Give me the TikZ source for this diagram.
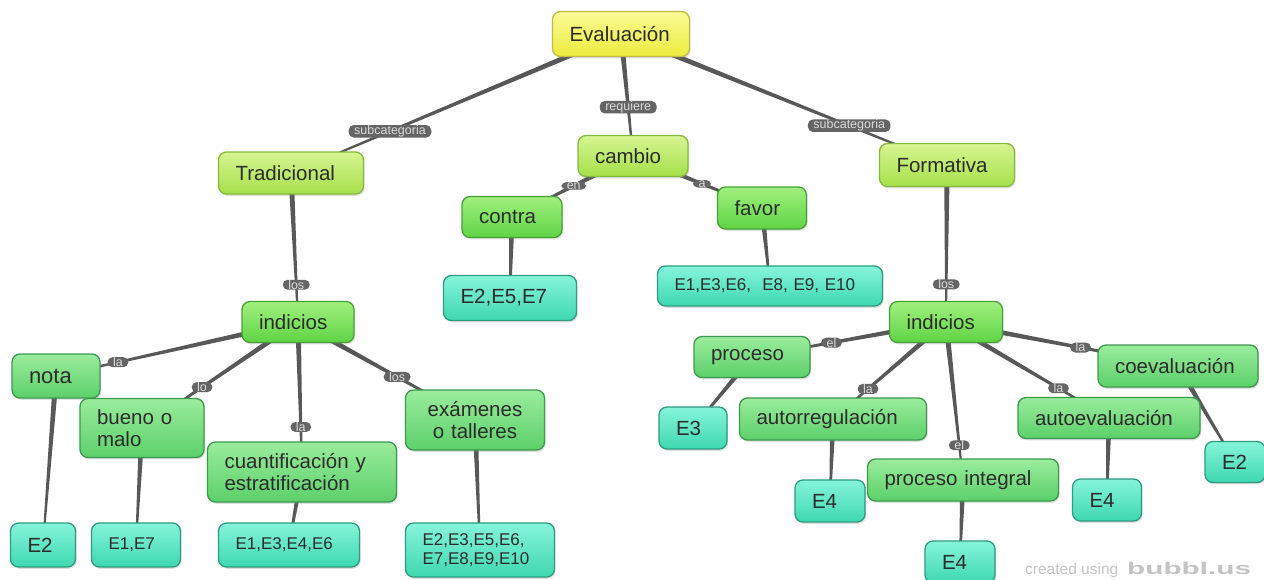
\documentclass[tikz,border=0pt]{standalone}
\usepackage{fontspec}
\setmainfont{Liberation Sans}
\usetikzlibrary{calc,shadows,backgrounds}

\definecolor{txt}{HTML}{2C2C2C}
\definecolor{yelTop}{HTML}{FAFA96}
\definecolor{yelBot}{HTML}{ECEC3E}
\definecolor{yelLine}{HTML}{BDBD48}
\definecolor{limeTop}{HTML}{D6F592}
\definecolor{limeBot}{HTML}{A6E04A}
\definecolor{limeLine}{HTML}{86B93E}
\definecolor{grnTop}{HTML}{A0F07E}
\definecolor{grnBot}{HTML}{5FD444}
\definecolor{grnLine}{HTML}{47A236}
\definecolor{mntTop}{HTML}{9AEC9C}
\definecolor{mntBot}{HTML}{5CD06A}
\definecolor{mntLine}{HTML}{3C9A4E}
\definecolor{tealTop}{HTML}{86F4DA}
\definecolor{tealBot}{HTML}{3ED8B0}
\definecolor{tealLine}{HTML}{2E9C80}
\definecolor{linkcol}{HTML}{585858}
\definecolor{lblFill}{HTML}{656565}
\definecolor{lblText}{HTML}{DADADA}
\definecolor{wmcol}{HTML}{C4C4C4}

\newcommand\tconn[2]{%
  \fill[linkcol] ($(#1)!2.8pt!90:(#2)$) -- ($(#2)!0.8pt!-90:(#1)$)
    -- ($(#2)!0.8pt!90:(#1)$) -- ($(#1)!2.8pt!-90:(#2)$) -- cycle;}

\tikzset{
  bub/.style={rounded corners=8pt, line width=1.3pt, inner xsep=17pt, inner ysep=2pt,
    align=left, text=txt, font=\fontsize{20.5}{21.5}\selectfont,
    drop shadow={shadow xshift=1.2pt, shadow yshift=-1.8pt, opacity=0.25}},
  yel/.style={bub, draw=yelLine, top color=yelTop, bottom color=yelBot},
  lime/.style={bub, draw=limeLine, top color=limeTop, bottom color=limeBot},
  grn/.style={bub, draw=grnLine, top color=grnTop, bottom color=grnBot},
  mnt/.style={bub, draw=mntLine, top color=mntTop, bottom color=mntBot},
  teal/.style={bub, draw=tealLine, top color=tealTop, bottom color=tealBot},
  smalltext/.style={font=\fontsize{17}{19}\selectfont},
  lbl/.style={fill=lblFill, text=lblText, rounded corners=5pt, inner xsep=5.5pt,
    inner ysep=0.4pt, font=\fontsize{12.5}{13}\selectfont},
}

\begin{document}
\begin{tikzpicture}[x=1pt, y=-1pt]
\useasboundingbox (0,0) rectangle (1264,579);

% level 0
\node[yel, text width=103pt, minimum height=45pt] (eval) at (621,34) {Evaluación};
% level 1
\node[lime, text width=111pt, minimum height=42pt] (trad) at (291,173) {Tradicional};
\node[lime, text width=76pt, minimum height=41pt] (cambio) at (633,156) {cambio};
\node[lime, text width=101pt, minimum height=43pt] (form) at (947,165) {Formativa};
% level 2
\node[grn, text width=66pt, minimum height=41pt] (contra) at (512,217) {contra};
\node[grn, text width=55pt, minimum height=42pt] (favor) at (762,208) {favor};
\node[grn, text width=78pt, minimum height=41pt] (indL) at (298,322) {indicios};
\node[grn, text width=79pt, minimum height=41pt] (indR) at (946,322) {indicios};
\node[teal, text width=99pt, minimum height=45pt] (e257) at (510,298) {E2,E5,E7};
\node[teal, smalltext, text width=191pt, minimum height=40pt] (efav) at (770,286) {E1,E3,E6,~ E8, E9, E10};
% left branch
\node[mnt, font=\fontsize{22}{23}\selectfont, text width=54pt, minimum height=44pt] (nota) at (56,376) {nota};
\node[mnt, text width=90pt, minimum height=59pt] (bueno) at (142,428) {bueno o\\malo};
\node[mnt, text width=155pt, minimum height=60pt] (cuant) at (302,472) {cuantificación y\\estratificación};
\node[mnt, align=center, text width=105pt, minimum height=60pt] (exam) at (475,420) {exámenes\\o talleres};
\node[teal, text width=31pt, minimum height=44pt] (eL2) at (43,545) {E2};
\node[teal, smalltext, text width=55pt, minimum height=44pt] (e17) at (136,545) {E1,E7};
\node[teal, smalltext, text width=107pt, minimum height=44pt] (e1346) at (289,545) {E1,E3,E4,E6};
\node[teal, smalltext, text width=115pt, minimum height=54pt] (eall) at (480,550) {E2,E3,E5,E6,\\E7,E8,E9,E10};
% right branch
\node[mnt, text width=82pt, minimum height=41pt] (proc) at (752,357) {proceso};
\node[teal, text width=34pt, minimum height=42pt] (e3) at (693,428) {E3};
\node[mnt, text width=153pt, minimum height=42pt] (autorr) at (833,419) {autorregulación};
\node[mnt, text width=157pt, minimum height=42pt] (procint) at (963,480) {proceso integral};
\node[mnt, text width=148pt, minimum height=41pt] (autoev) at (1109,418) {autoevaluación};
\node[mnt, text width=126pt, minimum height=42pt] (coev) at (1178,366) {coevaluación};
\node[teal, text width=36pt, minimum height=42pt] (e4a) at (830,501) {E4};
\node[teal, text width=36pt, minimum height=42pt] (e4b) at (960,562) {E4};
\node[teal, text width=35pt, minimum height=42pt] (e4c) at (1107,500) {E4};
\node[teal, text width=26pt, minimum height=41pt] (eR2) at (1235,462) {E2};

% watermark
\node[anchor=base west, inner sep=0pt, text=wmcol, font=\fontsize{15.5}{16}\selectfont] (wm1) at (1025,574) {created using};
\node[anchor=base west, inner sep=0pt, text=wmcol, font=\bfseries\fontsize{17}{17}\selectfont] (wm2) at (1127,574) {\scalebox{1.75}[1]{bubbl.us}};

\begin{pgfonlayer}{background}
\fill[white] (0,0) rectangle (1264,579);
\tconn{eval}{trad}
\tconn{eval}{cambio}
\tconn{eval}{form}
\tconn{cambio}{contra}
\tconn{cambio}{favor}
\tconn{contra}{e257}
\tconn{favor}{efav}
\tconn{trad}{indL}
\tconn{form}{indR}
\tconn{indL}{nota}
\tconn{indL}{bueno}
\tconn{indL}{cuant}
\tconn{indL}{exam}
\tconn{nota}{eL2}
\tconn{bueno}{e17}
\tconn{cuant}{e1346}
\tconn{exam}{eall}
\tconn{indR}{proc}
\tconn{indR}{autorr}
\tconn{indR}{procint}
\tconn{indR}{autoev}
\tconn{indR}{coev}
\tconn{proc}{e3}
\tconn{autorr}{e4a}
\tconn{procint}{e4b}
\tconn{autoev}{e4c}
\tconn{coev}{eR2}
\end{pgfonlayer}

% connector labels
\path (eval.center) -- node[lbl, pos=0.70] (l1) {subcategoria} (trad.center);
\path (eval.center) -- node[lbl, pos=0.60] (l2) {requiere} (cambio.center);
\path (eval.center) -- node[lbl, pos=0.70] (l3) {subcategoria} (form.center);
\path (cambio.center) -- node[lbl, pos=0.49] (l4) {en} (contra.center);
\path (cambio.center) -- node[lbl, pos=0.535] (l5) {a} (favor.center);
\path (trad.center) -- node[lbl, pos=0.75] (l6) {los} (indL.center);
\path (form.center) -- node[lbl, pos=0.76] (l7) {los} (indR.center);
\path (indL.center) -- node[lbl, pos=0.744] (l8) {la} (nota.center);
\path (indL.center) -- node[lbl, pos=0.615] (l9) {lo} (bueno.center);
\path (indL.center) -- node[lbl, pos=0.70] (l10) {la} (cuant.center);
\path (indL.center) -- node[lbl, pos=0.56] (l11) {los} (exam.center);
\path (indR.center) -- node[lbl, pos=0.59] (l12) {el} (proc.center);
\path (indR.center) -- node[lbl, pos=0.69] (l13) {la} (autorr.center);
\path (indR.center) -- node[lbl, pos=0.78] (l14) {el} (procint.center);
\path (indR.center) -- node[lbl, pos=0.69] (l15) {la} (autoev.center);
\path (indR.center) -- node[lbl, pos=0.58] (l16) {la} (coev.center);
\end{tikzpicture}
\end{document}
